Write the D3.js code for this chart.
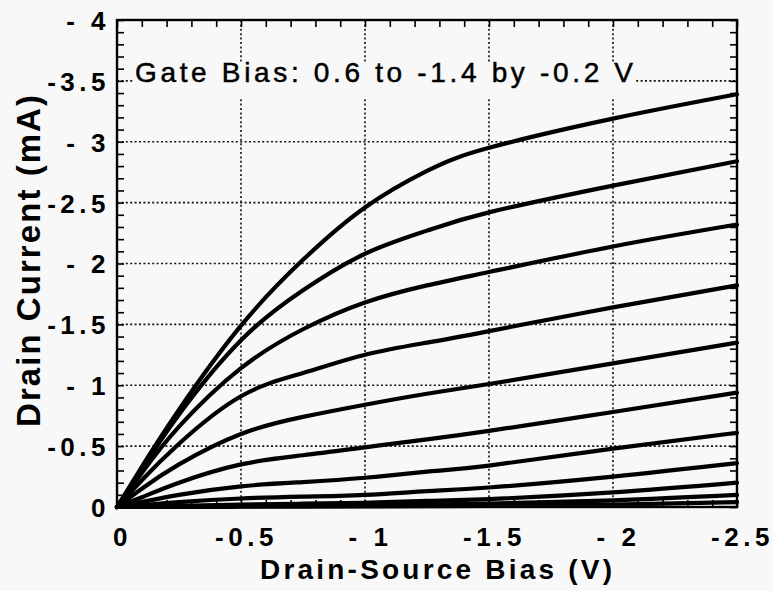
<!DOCTYPE html>
<html>
<head>
<meta charset="utf-8">
<script src="https://cdn.jsdelivr.net/npm/d3@7"></script>
<style>
html, body { margin: 0; padding: 0; background: #f8f8f8; }
svg { display: block; }
text { font-family: "Liberation Sans", Arial, Helvetica, sans-serif; fill: #000; }
</style>
</head>
<body>
<div id="chart"></div>
<script>
/* Drain current vs drain-source bias, one curve per gate bias */
const vds = [0, -0.1, -0.25, -0.5, -0.75, -1, -1.25, -1.5, -2, -2.5];
const gateBias = [0.6, 0.4, 0.2, 0, -0.2, -0.4, -0.6, -0.8, -1.0, -1.2, -1.4];
const id_g06  = [0, -0.33, -0.80, -1.49, -2.03, -2.46, -2.76, -2.95, -3.19, -3.39];
const id_g04  = [0, -0.31, -0.76, -1.37, -1.78, -2.08, -2.27, -2.42, -2.64, -2.84];
const id_g02  = [0, -0.28, -0.66, -1.14, -1.46, -1.68, -1.82, -1.93, -2.14, -2.32];
const id_g00  = [0, -0.22, -0.52, -0.91, -1.10, -1.25, -1.35, -1.445, -1.64, -1.82];
const id_gm02 = [0, -0.15, -0.35, -0.60, -0.74, -0.84, -0.93, -1.01, -1.18, -1.35];
const id_gm04 = [0, -0.08, -0.20, -0.35, -0.425, -0.49, -0.555, -0.625, -0.78, -0.94];
const id_gm06 = [0, -0.04, -0.10, -0.17, -0.205, -0.24, -0.29, -0.34, -0.48, -0.61];
const id_gm08 = [0, -0.015, -0.04, -0.07, -0.085, -0.10, -0.13, -0.16, -0.25, -0.36];
const id_gm10 = [0, -0.004, -0.01, -0.02, -0.027, -0.035, -0.05, -0.065, -0.12, -0.20];
const id_gm12 = [0, -0.001, -0.003, -0.006, -0.009, -0.013, -0.02, -0.028, -0.055, -0.10];
const id_gm14 = [0, 0, -0.001, -0.002, -0.003, -0.004, -0.007, -0.01, -0.02, -0.04];
const curves = [id_g06, id_g04, id_g02, id_g00, id_gm02, id_gm04, id_gm06, id_gm08, id_gm10, id_gm12, id_gm14];

const xTicks = [0, -0.5, -1, -1.5, -2, -2.5];
const xTickLabels = ["0", "-0.5", "- 1", "-1.5", "- 2", "-2.5"];
const yTicks = [0, -0.5, -1, -1.5, -2, -2.5, -3, -3.5, -4];
const yTickLabels = ["0", "-0.5", "- 1", "-1.5", "- 2", "-2.5", "- 3", "-3.5", "- 4"];
const xGrid = [-0.5, -1, -1.5, -2];
const yGrid = [-0.5, -1, -1.5, -2, -2.5, -3, -3.5];

const W = 773, H = 591, L = 117, R = 737, T = 20, B = 507;
const svg = d3.select("#chart").append("svg").attr("width", W).attr("height", H);
svg.append("rect").attr("width", W).attr("height", H).attr("fill", "#f8f8f8");

const x = d3.scaleLinear().domain([0, -2.5]).range([L, R]);
const y = d3.scaleLinear().domain([0, -4]).range([B, T]);

/* dotted grid */
const grid = svg.append("g").attr("stroke", "#111").attr("stroke-width", 1.6)
  .attr("stroke-dasharray", "2 2.4");
grid.selectAll("line.v").data(xGrid).join("line").attr("class", "v")
  .attr("x1", d => x(d)).attr("x2", d => x(d)).attr("y1", T).attr("y2", B);
grid.selectAll("line.h").data(yGrid).join("line").attr("class", "h")
  .attr("x1", L).attr("x2", R).attr("y1", d => y(d)).attr("y2", d => y(d));

/* annotation box hides the grid behind it */
svg.append("rect").attr("x", 134).attr("y", 62).attr("width", 502).attr("height", 35)
  .attr("fill", "#f8f8f8");
svg.append("text").attr("x", 135).attr("y", 82)
  .attr("font-size", 28).attr("textLength", 498).attr("lengthAdjust", "spacing")
  .attr("stroke", "#000").attr("stroke-width", 0.5)
  .text("Gate Bias: 0.6 to -1.4 by -0.2 V");

/* curves */
const line = d3.line().x((d, i) => x(vds[i])).y(d => y(d)).curve(d3.curveNatural);
svg.append("g").selectAll("path").data(curves).join("path")
  .attr("d", d => line(d))
  .attr("fill", "none").attr("stroke", "#000").attr("stroke-width", 4.2)
  .attr("stroke-linecap", "round").attr("stroke-linejoin", "round");

/* inward minor ticks on all four sides */
const xMinor = d3.range(0, 26).map(i => -i / 10);
const yMinor = d3.range(0, 41).map(i => -i / 10);
function tickStyle(g) {
  g.select(".domain").remove();
  g.selectAll(".tick line").attr("stroke", "#000").attr("stroke-width", 1.6);
}
svg.append("g").attr("transform", `translate(0,${B})`)
  .call(d3.axisBottom(x).tickValues(xMinor).tickSize(-7).tickFormat("")).call(tickStyle);
svg.append("g").attr("transform", `translate(0,${T})`)
  .call(d3.axisTop(x).tickValues(xMinor).tickSize(-7).tickFormat("")).call(tickStyle);
svg.append("g").attr("transform", `translate(${L},0)`)
  .call(d3.axisLeft(y).tickValues(yMinor).tickSize(-7).tickFormat("")).call(tickStyle);
svg.append("g").attr("transform", `translate(${R},0)`)
  .call(d3.axisRight(y).tickValues(yMinor).tickSize(-7).tickFormat("")).call(tickStyle);

/* frame */
svg.append("rect").attr("x", L).attr("y", T).attr("width", R - L).attr("height", B - T)
  .attr("fill", "none").attr("stroke", "#000").attr("stroke-width", 2.4);

/* tick labels */
function labelStyle(g) {
  g.select(".domain").remove();
  g.selectAll(".tick line").remove();
  g.selectAll(".tick text").attr("font-size", 26).attr("font-weight", "bold")
    .attr("fill", "#000").style("letter-spacing", "4.5px")
    .attr("font-family", "'Liberation Sans', Arial, Helvetica, sans-serif");
}
svg.append("g").attr("transform", `translate(${L + 5},0)`)
  .call(d3.axisLeft(y).tickValues(yTicks).tickFormat((d, i) => yTickLabels[i]).tickSize(0).tickPadding(0))
  .call(labelStyle)
  .selectAll(".tick text").attr("x", -12).attr("dy", "0.36em");
svg.append("g").attr("transform", `translate(5,${B})`)
  .call(d3.axisBottom(x).tickValues(xTicks).tickFormat((d, i) => xTickLabels[i]).tickSize(0).tickPadding(21))
  .call(labelStyle);

/* axis titles */
svg.append("text").attr("x", 260).attr("y", 579)
  .attr("font-size", 28).attr("font-weight", "bold")
  .attr("textLength", 352).attr("lengthAdjust", "spacing")
  .text("Drain-Source Bias (V)");
svg.append("text").attr("transform", "translate(40,427) rotate(-90)")
  .attr("font-size", 33).attr("font-weight", "bold")
  .attr("textLength", 332).attr("lengthAdjust", "spacing")
  .text("Drain Current (mA)");
</script>
</body>
</html>
